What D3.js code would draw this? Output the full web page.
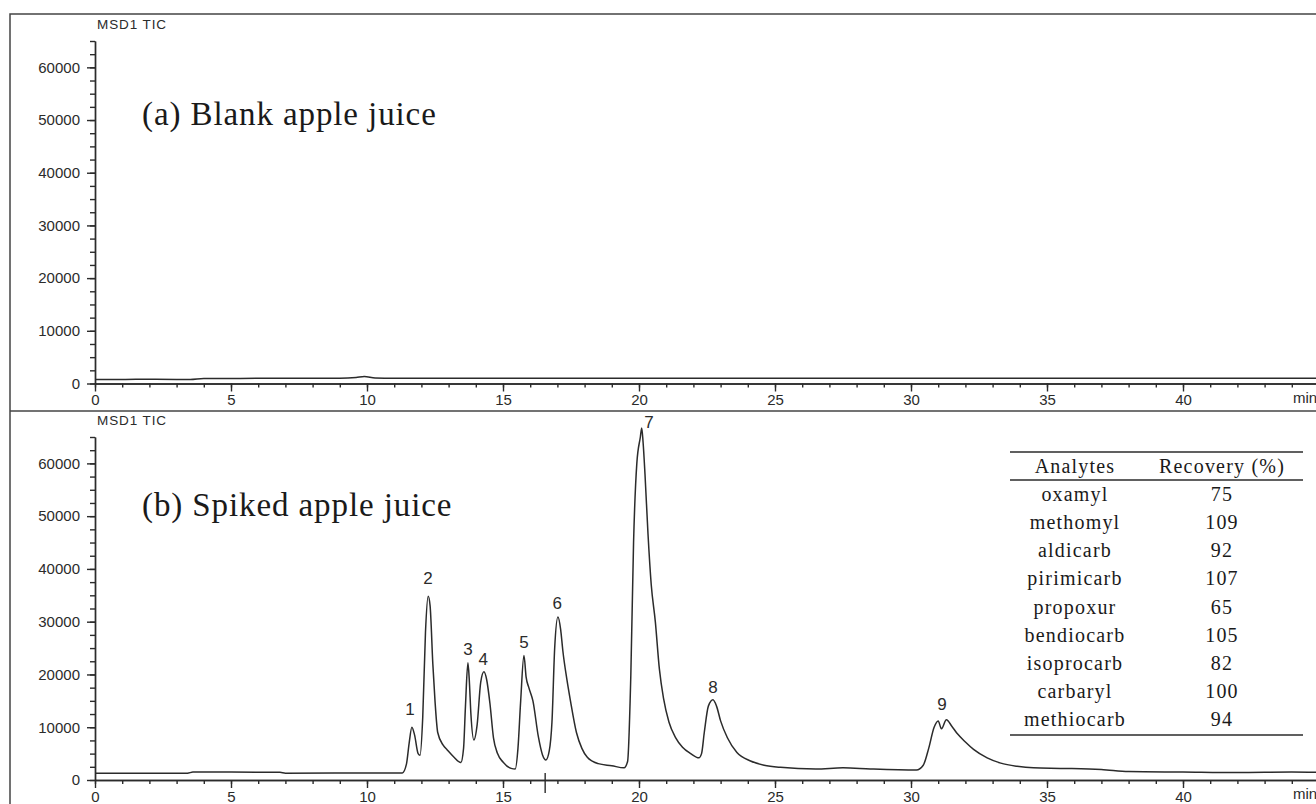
<!DOCTYPE html>
<html>
  <head>
    <meta http-equiv="Content-type" content="text/html; charset=utf-8">
    <title>TIC chromatograms - apple juice</title>
    <script src="https://d3js.org/d3.v7.min.js"></script>
    <style>
      body { margin: 0; background: #fff; }
    </style>
  </head>
  <body>
  <div id="chart"></div>
  <script>
    // retention time (min) and abundance for the blank run
    var blankTime   = [0, 1, 2, 3, 3.5, 4, 5, 6, 7, 8, 9, 9.6, 9.9, 10.3, 11, 15, 20, 25, 30, 35, 40, 45.5];
    var blankSignal = [780, 780, 820, 780, 760, 950, 950, 980, 1000, 1000, 1000, 1150, 1350, 1050, 1000, 1000, 1000, 1000, 1000, 1000, 1000, 1000];

    // retention time (min) and abundance for the spiked run
    var spikedTime = [0, 3.4, 3.6, 5, 6.8, 7.0, 11.3, 11.45, 11.55, 11.65, 11.75, 11.88, 11.95,
      12.05, 12.15, 12.25, 12.32, 12.42, 12.5, 12.6, 12.8, 12.95, 13.2, 13.45,
      13.55, 13.62, 13.71, 13.76, 13.82, 13.93, 14.05, 14.18, 14.3, 14.4, 14.52, 14.65, 14.8, 15.0, 15.3, 15.45,
      15.55, 15.65, 15.77, 15.85, 15.95, 16.1, 16.3, 16.45, 16.58,
      16.7, 16.8, 16.9, 17.02, 17.12, 17.2, 17.35, 17.48, 17.7, 17.9, 18.1, 18.5, 19.0, 19.45,
      19.58, 19.7, 19.8, 19.92, 20.05, 20.1, 20.15, 20.22, 20.33, 20.45, 20.6, 20.75, 20.9, 21.1, 21.35, 21.6, 21.9, 22.2,
      22.3, 22.4, 22.55, 22.72, 22.85, 23.0, 23.25, 23.6, 24.1, 24.6, 25.2, 26.5, 27.5, 28.5, 30.2,
      30.45, 30.65, 30.85, 31.0, 31.12, 31.3, 31.5, 31.7, 32.0, 32.3, 32.8, 33.3, 33.9, 34.5, 35.5, 37.0, 38.0, 40.0, 42.0, 44.0, 45.5];
    var spikedSignal = [1300, 1300, 1500, 1500, 1450, 1300, 1350, 3000, 7000, 10000, 8500, 5000, 4700,
      12000, 28000, 34800, 33000, 22000, 15000, 9000, 6600, 5700, 4300, 3300,
      6000, 14000, 22200, 19000, 12500, 7600, 10500, 18500, 20500, 19000, 14500, 8000, 5000, 3400, 2200, 2100,
      6000, 15000, 23600, 19500, 17500, 15000, 8200, 4800, 3800,
      5500, 11000, 25000, 30900, 28500, 24500, 19000, 15000, 9000, 6000, 4300, 3100, 2700, 2300,
      3500, 20000, 45000, 60000, 65000, 66700, 64000, 58000, 46700, 37000, 30000, 21000, 15500, 11000, 8000, 6200, 5000, 4200,
      5000, 9000, 14000, 15200, 14000, 11200, 8000, 5200, 3600, 2800, 2400, 2100, 2300, 2100, 1900,
      2800, 6000, 10000, 11200, 9700, 11400, 10200, 8800, 7200, 5800, 4200, 3200, 2600, 2300, 2200, 2000, 1600, 1500, 1400, 1500, 1400];

    // peak numbers, where they sit (min) and the abundance of the label baseline
    var peakNames = ['1', '2', '3', '4', '5', '6', '7', '8', '9'];
    var peakTime = [11.58, 12.24, 13.71, 14.27, 15.77, 16.99, 20.37, 22.72, 31.14];
    var peakLabelSignal = [12300, 37200, 23600, 21700, 24950, 32500, 66700, 16400, 13200];
    var markerTime = 16.55;

    // recovery table
    var analytes = ['oxamyl', 'methomyl', 'aldicarb', 'pirimicarb', 'propoxur', 'bendiocarb', 'isoprocarb', 'carbaryl', 'methiocarb'];
    var recovery = [75, 109, 92, 107, 65, 105, 82, 100, 94];

    // axis ticks
    var timeTicks = [0, 5, 10, 15, 20, 25, 30, 35, 40];
    var signalTicks = [0, 10000, 20000, 30000, 40000, 50000, 60000];

    var width = 1316, height = 804;
    var ink = '#2b2b2b';
    var sans = '"Liberation Sans", Arial, sans-serif';
    var serif = '"Liberation Serif", "Times New Roman", serif';

    var svg = d3.select('#chart').append('svg')
      .attr('width', width).attr('height', height)
      .style('display', 'block');

    var x = d3.scaleLinear().domain([0, 45]).range([95, 1319]);

    // outer frame and panel divider
    svg.append('rect')
      .attr('x', 10).attr('y', 14).attr('width', 1400).attr('height', 900)
      .attr('fill', 'none').attr('stroke', '#444').attr('stroke-width', 1.5);
    svg.append('line')
      .attr('x1', 10).attr('x2', width).attr('y1', 411).attr('y2', 411)
      .attr('stroke', '#444').attr('stroke-width', 1.5);

    function drawPanel(opt) {
      var y = d3.scaleLinear().domain([0, 65000]).range([opt.bottom, opt.top]);
      var g = svg.append('g');

      // minor ticks
      g.append('g')
        .attr('transform', 'translate(0,' + opt.bottom + ')')
        .call(d3.axisBottom(x).tickValues(d3.range(0, 46, 1)).tickSize(4).tickSizeOuter(0).tickFormat(''));
      g.append('g')
        .attr('transform', 'translate(' + x(0) + ',0)')
        .call(d3.axisLeft(y).tickValues(d3.range(0, 65001, 2500)).tickSize(5).tickSizeOuter(0).tickFormat(''));

      // major ticks + labels
      var xa = g.append('g')
        .attr('transform', 'translate(0,' + opt.bottom + ')')
        .call(d3.axisBottom(x).tickValues(timeTicks).tickSize(8).tickPadding(3).tickSizeOuter(0));
      g.append('g')
        .attr('transform', 'translate(' + x(0) + ',0)')
        .call(d3.axisLeft(y).tickValues(signalTicks).tickSize(8).tickPadding(7).tickSizeOuter(0)
          .tickFormat(d3.format('d')));

      g.selectAll('.domain, .tick line').attr('stroke', ink).attr('stroke-width', 1.4);
      g.selectAll('.tick text').attr('fill', ink).style('font-family', sans).style('font-size', '15px');

      xa.append('text')
        .attr('x', 1293).attr('y', 19)
        .attr('fill', ink).style('font-family', sans).style('font-size', '15px')
        .attr('text-anchor', 'start')
        .text('min');

      g.append('text')
        .attr('x', 97).attr('y', opt.top - 12)
        .attr('fill', ink).style('font-family', sans).style('font-size', '13.5px')
        .style('letter-spacing', '0.9px')
        .text('MSD1 TIC');

      g.append('text')
        .attr('x', 142).attr('y', opt.titleY)
        .attr('fill', '#1a1a1a').style('font-family', serif).style('font-size', '33px')
        .style('letter-spacing', '0.9px')
        .text(opt.title);

      var line = d3.line()
        .x(function(d) { return x(d[0]); })
        .y(function(d) { return y(d[1]); })
        .curve(d3.curveMonotoneX);

      g.append('path')
        .datum(d3.zip(opt.times, opt.signals))
        .attr('d', line)
        .attr('fill', 'none')
        .attr('stroke', ink)
        .attr('stroke-width', 1.5)
        .attr('stroke-linejoin', 'round');

      return { g: g, y: y };
    }

    drawPanel({ top: 41, bottom: 383.5, title: '(a) Blank apple juice', titleY: 125,
      times: blankTime, signals: blankSignal });

    var b = drawPanel({ top: 437, bottom: 780, title: '(b) Spiked apple juice', titleY: 516,
      times: spikedTime, signals: spikedSignal });

    // peak numbers
    b.g.selectAll('.peak')
      .data(peakNames)
      .enter()
      .append('text')
      .attr('class', 'peak')
      .attr('x', function(d, i) { return x(peakTime[i]); })
      .attr('y', function(d, i) { return b.y(peakLabelSignal[i]); })
      .attr('text-anchor', 'middle')
      .attr('fill', ink).style('font-family', sans).style('font-size', '17px')
      .text(function(d) { return d; });

    // small event marker on the time axis
    b.g.append('line')
      .attr('x1', x(markerTime)).attr('x2', x(markerTime))
      .attr('y1', b.y(0) - 7).attr('y2', b.y(0) + 13)
      .attr('stroke', ink).attr('stroke-width', 1.4);

    // recovery table
    var tbl = svg.append('g');
    var colAnalyte = 1075, colRecovery = 1222;
    var row = d3.scaleLinear().domain([0, analytes.length - 1]).range([501, 726]);

    [452, 480, 735].forEach(function(yy) {
      tbl.append('line')
        .attr('x1', 1010).attr('x2', 1303).attr('y1', yy).attr('y2', yy)
        .attr('stroke', ink).attr('stroke-width', 1.4);
    });

    var cellStyle = function(sel) {
      sel.attr('text-anchor', 'middle').attr('fill', '#1a1a1a')
        .style('font-family', serif).style('font-size', '20px').style('letter-spacing', '1.2px');
    };

    tbl.append('text').attr('x', colAnalyte).attr('y', 473).call(cellStyle).text('Analytes');
    tbl.append('text').attr('x', colRecovery).attr('y', 473).call(cellStyle).text('Recovery (%)');

    tbl.selectAll('.an')
      .data(analytes)
      .enter().append('text')
      .attr('class', 'an')
      .attr('x', colAnalyte)
      .attr('y', function(d, i) { return row(i); })
      .call(cellStyle)
      .text(function(d) { return d; });

    tbl.selectAll('.rec')
      .data(recovery)
      .enter().append('text')
      .attr('class', 'rec')
      .attr('x', colRecovery)
      .attr('y', function(d, i) { return row(i); })
      .call(cellStyle)
      .text(function(d) { return d; });
  </script>
  </body>
</html>
